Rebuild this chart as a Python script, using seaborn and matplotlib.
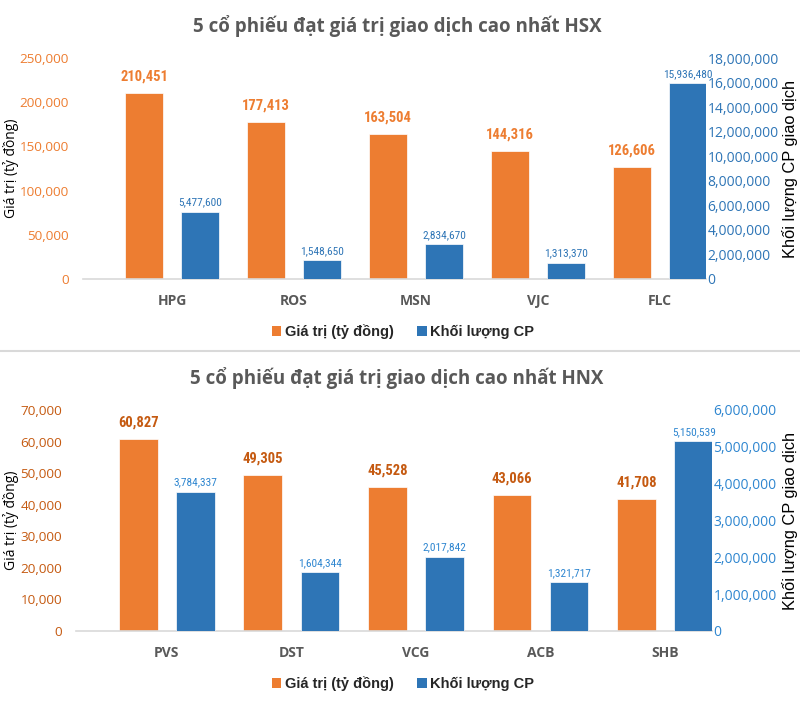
import numpy as np
import pandas as pd
import matplotlib
matplotlib.use("Agg")
import matplotlib.pyplot as plt
import seaborn as sns
from matplotlib import font_manager as fm
from matplotlib.patches import Patch
from matplotlib.lines import Line2D
from matplotlib.ticker import FuncFormatter, MultipleLocator

# ---------------- data ----------------
hsx_codes = ["HPG", "ROS", "MSN", "VJC", "FLC"]
hsx_value = [210451, 177413, 163504, 144316, 126606]
hsx_volume = [5477600, 1548650, 2834670, 1313370, 15936480]

hnx_codes = ["PVS", "DST", "VCG", "ACB", "SHB"]
hnx_value = [60827, 49305, 45528, 43066, 41708]
hnx_volume = [3784337, 1604344, 2017842, 1321717, 5150539]

series_names = ["Giá trị (tỷ đồng)", "Khối lượng CP"]
titles = ["5 cổ phiếu đạt giá trị giao dịch cao nhất HSX",
          "5 cổ phiếu đạt giá trị giao dịch cao nhất HNX"]
ylabel_left = "Giá trị (tỷ đồng)"
ylabel_right = "Khối lượng CP giao dịch"

# ---------------- style ----------------
sns.set_theme(style="white")
plt.rcParams["font.family"] = ["Open Sans", "DejaVu Sans"]

# narrow font for data labels: prefer a family that has a bold face
names = {}
for f in fm.fontManager.ttflist:
    if "Narrow" in f.name or "Condensed" in f.name:
        w = f.weight if isinstance(f.weight, int) else (700 if "bold" in str(f.weight) else 400)
        names.setdefault(f.name, set()).add(w)
pref = ["Liberation Sans Narrow", "Roboto Condensed", "DejaVu Sans Condensed",
        "Open Sans Condensed"]
narrow_bold = None
narrow_reg = None
for p in pref + sorted(names):
    if p in names:
        ws = names[p]
        if narrow_bold is None and max(ws) >= 600:
            narrow_bold = p
        if narrow_reg is None and any(350 <= w <= 500 for w in ws):
            narrow_reg = p
BOLD_FAMILY = [narrow_bold, "Liberation Sans", "DejaVu Sans"] if narrow_bold else ["Liberation Sans", "DejaVu Sans"]
REG_FAMILY = [narrow_reg, "Liberation Sans", "DejaVu Sans"] if narrow_reg else ["Liberation Sans", "DejaVu Sans"]
BOLD_SCALE = 1.0 if narrow_bold else 0.85
REG_SCALE = 1.0 if narrow_reg else 0.85

ORANGE = "#ED7D31"
BLUE = "#2E75B6"
W, H = 800, 723

fig = plt.figure(figsize=(W / 100, H / 100), dpi=100)


def px_rect(left, top, right, bottom):
    return [left / W, 1 - bottom / H, (right - left) / W, (bottom - top) / H]


def draw_panel(rect, codes, values, volumes, lmax, lstep, rmax, rstep,
               lcol, rcol, title, title_y, legend_y, lpad):
    ax = fig.add_axes(rect)
    ax2 = ax.twinx()
    n = len(codes)
    df1 = pd.DataFrame({"code": codes * 2,
                        "series": [series_names[0]] * n + [series_names[1]] * n,
                        "v": list(values) + [np.nan] * n})
    df2 = pd.DataFrame({"code": codes * 2,
                        "series": [series_names[0]] * n + [series_names[1]] * n,
                        "v": [np.nan] * n + list(volumes)})
    common = dict(x="code", y="v", hue="series", hue_order=series_names,
                  order=codes, palette=[ORANGE, BLUE], width=0.92, gap=0.326,
                  errorbar=None, legend=False, edgecolor="white", linewidth=0.5,
                  saturation=1)
    sns.barplot(data=df1, ax=ax, **common)
    sns.barplot(data=df2, ax=ax2, **common)

    ax.set_ylim(0, lmax)
    ax2.set_ylim(0, rmax)
    ax.set_xlim(-0.73, n - 1 + 0.377)
    ax.yaxis.set_major_locator(MultipleLocator(lstep))
    ax2.yaxis.set_major_locator(MultipleLocator(rstep))
    fmt = FuncFormatter(lambda x, p: f"{x:,.0f}")
    ax.yaxis.set_major_formatter(fmt)
    ax2.yaxis.set_major_formatter(fmt)

    ax.tick_params(axis="y", length=0, labelsize=9.7, labelcolor=lcol, pad=lpad)
    ax2.tick_params(axis="y", length=0, labelsize=10, labelcolor=rcol, pad=1)
    ax.tick_params(axis="x", length=0, pad=11)
    for lab in ax.get_xticklabels():
        lab.set_fontweight("bold")
        lab.set_color("#595959")
        lab.set_fontsize(10)
    ax.set_xlabel("")
    ax.set_ylabel("")
    ax2.set_ylabel("")
    for a in (ax, ax2):
        for s in ("left", "right", "top"):
            a.spines[s].set_visible(False)
        a.grid(False)
    ax2.spines["bottom"].set_visible(False)
    ax.spines["bottom"].set_color("#d9d9d9")
    ax.spines["bottom"].set_linewidth(1.2)

    # data labels
    ax.bar_label(ax.containers[0], labels=[f"{v:,}" for v in values], padding=7,
                 color=lcol, fontsize=10.5 * BOLD_SCALE, fontweight="bold",
                 family=BOLD_FAMILY)
    ax2.bar_label(ax2.containers[-1], labels=[f"{v:,}" for v in volumes], padding=3,
                  color=rcol, fontsize=8.2 * REG_SCALE,
                  family=REG_FAMILY)

    # axis titles
    yc = rect[1] + rect[3] / 2
    fig.text(11 / W, yc, ylabel_left, rotation=90, ha="center", va="center",
             fontsize=10, color="black")
    fig.text(790 / W, yc, ylabel_right, rotation=90, ha="center", va="center",
             fontsize=11.8, color="black", family=["Liberation Sans", "DejaVu Sans"])

    # chart title
    fig.text(397 / W, 1 - title_y / H, title, ha="center", va="baseline",
             fontsize=13.5, fontweight="bold", color="#595959")

    # legend
    handles = [Patch(facecolor=ORANGE, edgecolor="none"),
               Patch(facecolor=BLUE, edgecolor="none")]
    fig.legend(handles, series_names, loc="center",
               bbox_to_anchor=(403 / W, 1 - legend_y / H), ncol=2, frameon=False,
               handlelength=0.65, handleheight=0.65, handletextpad=0.25,
               columnspacing=1.6,
               prop={"family": ["Liberation Sans", "DejaVu Sans"],
                     "weight": "bold", "size": 10.5})
    return ax, ax2


draw_panel(px_rect(83, 58, 706, 279), hsx_codes, hsx_value, hsx_volume,
           250000, 50000, 18000000, 2000000, ORANGE, BLUE, titles[0], 32, 332, 10)
draw_panel(px_rect(76, 410, 712, 631), hnx_codes, hnx_value, hnx_volume,
           70000, 10000, 6000000, 1000000, "#C55A11", "#2E86D0", titles[1], 384, 684, 10)

fig.add_artist(Line2D([0, 1], [1 - 351 / H, 1 - 351 / H], color="#d9d9d9",
                      linewidth=1.5, transform=fig.transFigure))

fig.savefig("out.png", dpi=100, facecolor="white")
